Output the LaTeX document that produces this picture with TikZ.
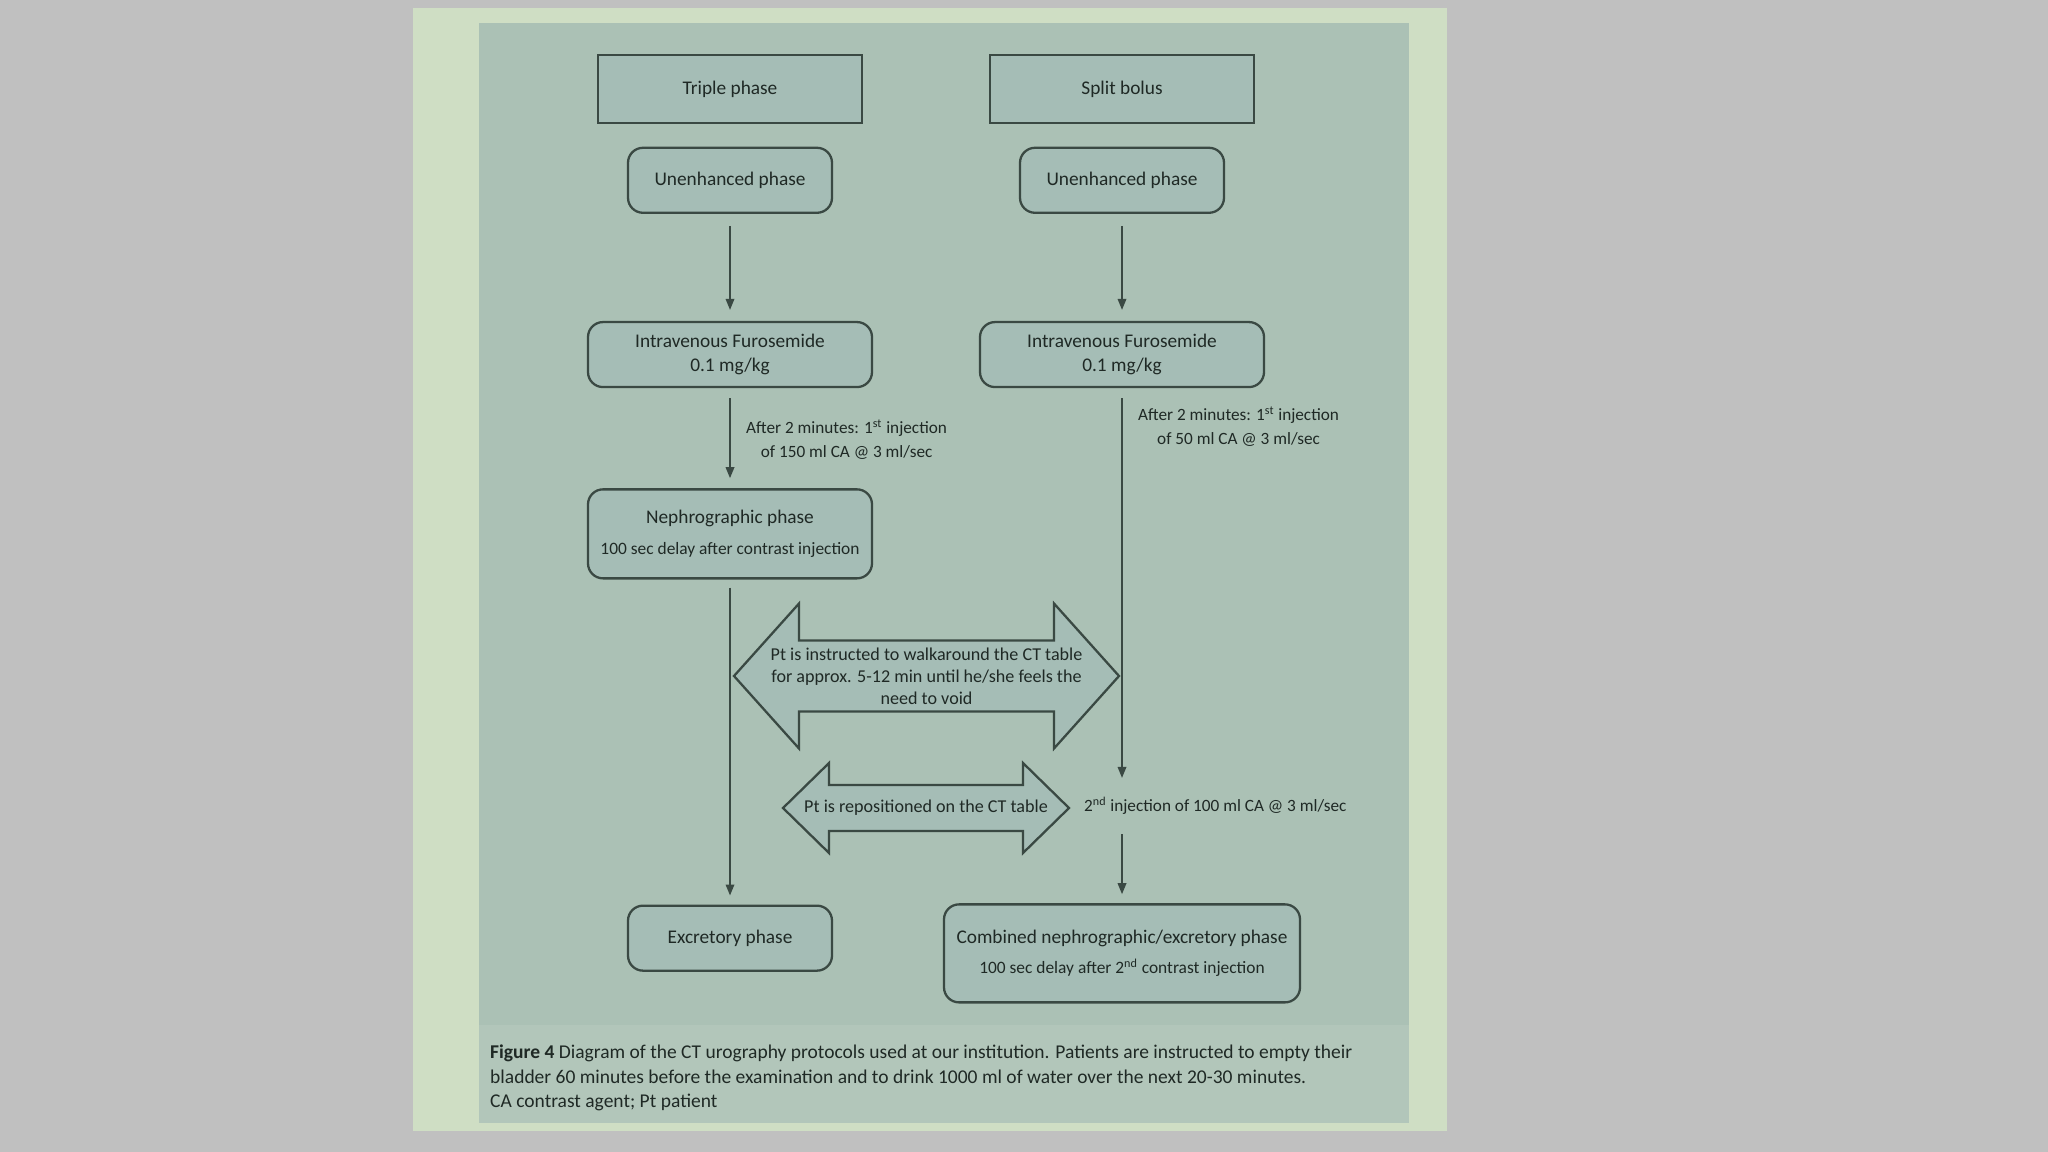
\documentclass[tikz,border=0pt]{standalone}
\usepackage{fontspec}
\setmainfont{Carlito}
\usepackage{tikz}
\usetikzlibrary{positioning,arrows.meta,calc}
\definecolor{PageGrey}{HTML}{C0C0C0}
\definecolor{FrameGreen}{HTML}{CFDEC4}
\definecolor{PanelTeal}{HTML}{ABC1B5}
\definecolor{CaptionTeal}{HTML}{B2C6BA}
\definecolor{BoxTeal}{HTML}{A5BDB6}
\definecolor{LineGrey}{HTML}{3A4943}
\definecolor{InkGrey}{HTML}{1F2925}

\begin{document}
\begin{tikzpicture}[
  x=0.2mm,y=-0.2mm,
  font=\fontsize{11}{14}\selectfont,
  every node/.style={text=InkGrey},
  head/.style={draw=LineGrey,line width=1.3pt,fill=BoxTeal,minimum width=52.8mm,minimum height=13.6mm,inner sep=2pt},
  phase/.style={draw=LineGrey,line width=1.3pt,fill=BoxTeal,rounded corners=3mm,align=center,minimum width=40.8mm,minimum height=13mm,inner sep=2pt},
  wide/.style={phase,minimum width=56.8mm},
  note/.style={font=\fontsize{9.8}{13.6}\selectfont,align=center},
  arr/.style={-{Triangle[length=2.2mm,width=1.7mm]},draw=LineGrey,line width=1pt},
  dblarr/.style={draw=LineGrey,line width=1.3pt,fill=BoxTeal,line join=miter}
]
% page, frame and panel
\fill[PageGrey] (0,0) rectangle (2048,1152);
\fill[FrameGreen] (413,8) rectangle (1447,1131);
\fill[PanelTeal] (479,23) rectangle (1409,1025);
\fill[CaptionTeal] (479,1025) rectangle (1409,1123);

% triple phase column
\node[head] (triple) at (730,89) {Triple phase};
\node[phase,below=4.5mm of triple] (unenL) {Unenhanced phase};
\node[wide,below=21.4mm of unenL] (furosL) {Intravenous Furosemide\\0.1 mg/kg};
\node[wide,minimum height=17.8mm,below=20mm of furosL] (nephro) {Nephrographic phase\\[1.2mm]{\fontsize{9.9}{12}\selectfont 100 sec delay after contrast injection}};
\node[phase,below=65mm of nephro] (excret) {Excretory phase};

% split bolus column
\node[head] (split) at (1122,89) {Split bolus};
\node[phase,below=4.5mm of split] (unenR) {Unenhanced phase};
\node[wide,below=21.4mm of unenR] (furosR) {Intravenous Furosemide\\0.1 mg/kg};
\node[note,anchor=west] (inj2) at (1078,806) {2\textsuperscript{nd} injection of 100 ml CA @ 3 ml/sec};
\node[phase,minimum width=71.2mm,minimum height=19.6mm,below=103mm of furosR] (combined) {Combined nephrographic/excretory phase\\[1.2mm]{\fontsize{9.9}{12}\selectfont 100 sec delay after 2\textsuperscript{nd} contrast injection}};

% injection notes
\node[note,below right=5mm and 2mm of furosL.south] (doseL) {After 2 minutes: 1\textsuperscript{st} injection\\of 150 ml CA @ 3 ml/sec};
\node[note,below right=2.4mm and 2mm of furosR.south] (doseR) {After 2 minutes: 1\textsuperscript{st} injection\\of 50 ml CA @ 3 ml/sec};

% connectors
\draw[arr,shorten <=2.4mm,shorten >=2.2mm] (unenL) -- (furosL);
\draw[arr,shorten <=2.4mm,shorten >=2.2mm] (unenR) -- (furosR);
\draw[arr,shorten <=2mm,shorten >=2mm] (furosL) -- (nephro);
\draw[arr,shorten <=1.6mm,shorten >=1.8mm] (nephro) -- (excret);
\draw[arr,shorten <=2mm,shorten >=2.6mm] (furosR) -- (furosR |- inj2.north);
\draw[arr,shorten <=2.6mm,shorten >=1.8mm] (furosR |- inj2.south) -- (combined);

% walk and reposition arrows
\coordinate (walkc) at (926.5,676);
\draw[dblarr] (walkc) ++(-192.5,0) -- ++(65,-72.5) -- ++(0,37) -- ++(255,0) -- ++(0,-37) -- ++(65,72.5) -- ++(-65,72.5) -- ++(0,-37) -- ++(-255,0) -- ++(0,37) -- cycle;
\node[note,font=\fontsize{10.3}{12.4}\selectfont] (walk) at (walkc) {Pt is instructed to walkaround the CT table\\for approx. 5-12 min until he/she feels the\\need to void};
\coordinate (repc) at (926,808);
\draw[dblarr] (repc) ++(-143,0) -- ++(46,-45) -- ++(0,22) -- ++(194,0) -- ++(0,-22) -- ++(46,45) -- ++(-46,45) -- ++(0,-22) -- ++(-194,0) -- ++(0,22) -- cycle;
\node[note,font=\fontsize{10.3}{12.4}\selectfont] (repos) at (repc) {Pt is repositioned on the CT table};

% caption
\node[anchor=north west,align=left,font=\fontsize{11.1}{13.8}\selectfont] (caption) at (484,1039) {\textbf{Figure 4} Diagram of the CT urography protocols used at our institution. Patients are instructed to empty their\\bladder 60 minutes before the examination and to drink 1000 ml of water over the next 20-30 minutes.\\CA contrast agent; Pt patient};
\end{tikzpicture}
\end{document}
